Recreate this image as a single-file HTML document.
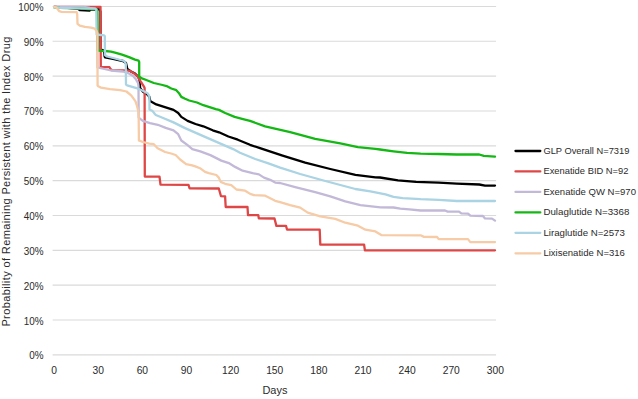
<!DOCTYPE html>
<html><head><meta charset="utf-8"><style>
html,body{margin:0;padding:0;background:#fff;width:638px;height:399px;overflow:hidden}
svg{display:block}
text{font-family:"Liberation Sans",sans-serif}
</style></head><body>
<svg width="638" height="399" viewBox="0 0 638 399">
<rect width="638" height="399" fill="#fff"/>

<line x1="52.6" y1="6.45" x2="496.1" y2="6.45" stroke="#dadada" stroke-width="1.15"/>
<line x1="52.6" y1="41.29" x2="496.1" y2="41.29" stroke="#dadada" stroke-width="1.15"/>
<line x1="52.6" y1="76.13" x2="496.1" y2="76.13" stroke="#dadada" stroke-width="1.15"/>
<line x1="52.6" y1="110.97" x2="496.1" y2="110.97" stroke="#dadada" stroke-width="1.15"/>
<line x1="52.6" y1="145.81" x2="496.1" y2="145.81" stroke="#dadada" stroke-width="1.15"/>
<line x1="52.6" y1="180.65" x2="496.1" y2="180.65" stroke="#dadada" stroke-width="1.15"/>
<line x1="52.6" y1="215.49" x2="496.1" y2="215.49" stroke="#dadada" stroke-width="1.15"/>
<line x1="52.6" y1="250.33" x2="496.1" y2="250.33" stroke="#dadada" stroke-width="1.15"/>
<line x1="52.6" y1="285.17" x2="496.1" y2="285.17" stroke="#dadada" stroke-width="1.15"/>
<line x1="52.6" y1="320.01" x2="496.1" y2="320.01" stroke="#dadada" stroke-width="1.15"/>
<line x1="52.6" y1="354.85" x2="496.1" y2="354.85" stroke="#dadada" stroke-width="1.15"/>
<text x="18.19" y="10.95" font-size="10.7" fill="#2b2b2b" textLength="25.31" lengthAdjust="spacingAndGlyphs">100%</text>
<text x="23.69" y="45.79" font-size="10.7" fill="#2b2b2b" textLength="19.81" lengthAdjust="spacingAndGlyphs">90%</text>
<text x="23.69" y="80.63" font-size="10.7" fill="#2b2b2b" textLength="19.81" lengthAdjust="spacingAndGlyphs">80%</text>
<text x="23.69" y="115.47" font-size="10.7" fill="#2b2b2b" textLength="19.81" lengthAdjust="spacingAndGlyphs">70%</text>
<text x="23.69" y="150.31" font-size="10.7" fill="#2b2b2b" textLength="19.81" lengthAdjust="spacingAndGlyphs">60%</text>
<text x="23.69" y="185.15" font-size="10.7" fill="#2b2b2b" textLength="19.81" lengthAdjust="spacingAndGlyphs">50%</text>
<text x="23.69" y="219.99" font-size="10.7" fill="#2b2b2b" textLength="19.81" lengthAdjust="spacingAndGlyphs">40%</text>
<text x="23.69" y="254.83" font-size="10.7" fill="#2b2b2b" textLength="19.81" lengthAdjust="spacingAndGlyphs">30%</text>
<text x="23.69" y="289.67" font-size="10.7" fill="#2b2b2b" textLength="19.81" lengthAdjust="spacingAndGlyphs">20%</text>
<text x="23.69" y="324.51" font-size="10.7" fill="#2b2b2b" textLength="19.81" lengthAdjust="spacingAndGlyphs">10%</text>
<text x="29.20" y="359.35" font-size="10.7" fill="#2b2b2b" textLength="14.30" lengthAdjust="spacingAndGlyphs">0%</text>
<text x="51.24" y="373.9" font-size="10.6" fill="#2b2b2b" textLength="5.72" lengthAdjust="spacingAndGlyphs">0</text>
<text x="92.51" y="373.9" font-size="10.6" fill="#2b2b2b" textLength="11.44" lengthAdjust="spacingAndGlyphs">30</text>
<text x="136.64" y="373.9" font-size="10.6" fill="#2b2b2b" textLength="11.44" lengthAdjust="spacingAndGlyphs">60</text>
<text x="180.77" y="373.9" font-size="10.6" fill="#2b2b2b" textLength="11.44" lengthAdjust="spacingAndGlyphs">90</text>
<text x="222.04" y="373.9" font-size="10.6" fill="#2b2b2b" textLength="17.16" lengthAdjust="spacingAndGlyphs">120</text>
<text x="266.17" y="373.9" font-size="10.6" fill="#2b2b2b" textLength="17.16" lengthAdjust="spacingAndGlyphs">150</text>
<text x="310.30" y="373.9" font-size="10.6" fill="#2b2b2b" textLength="17.16" lengthAdjust="spacingAndGlyphs">180</text>
<text x="354.43" y="373.9" font-size="10.6" fill="#2b2b2b" textLength="17.16" lengthAdjust="spacingAndGlyphs">210</text>
<text x="398.56" y="373.9" font-size="10.6" fill="#2b2b2b" textLength="17.16" lengthAdjust="spacingAndGlyphs">240</text>
<text x="442.69" y="373.9" font-size="10.6" fill="#2b2b2b" textLength="17.16" lengthAdjust="spacingAndGlyphs">270</text>
<text x="486.82" y="373.9" font-size="10.6" fill="#2b2b2b" textLength="17.16" lengthAdjust="spacingAndGlyphs">300</text>
<text x="262.45" y="393.9" font-size="11.6" fill="#2b2b2b" textLength="25.0" lengthAdjust="spacingAndGlyphs">Days</text>
<text transform="translate(10.3,326.6) rotate(-90)" x="0" y="0" font-size="11" fill="#2b2b2b" textLength="290" lengthAdjust="spacing">Probability of Remaining Persistent with the Index Drug</text>
<polyline points="54.2,6.9 65.0,7.6 78.0,8.8 80.0,10.2 89.5,10.7 91.0,9.5 99.5,9.5 100.4,11.5 100.6,49.5 104.0,50.3 104.6,56.5 105.0,57.3 113.0,59.0 123.0,61.0 126.0,63.0 127.3,69.0 131.0,71.5 135.0,73.6 138.0,76.6 139.4,79.0 140.2,88.3 142.8,91.5 147.7,94.8 149.5,97.0 150.1,100.5 150.5,101.3 156.3,104.4 164.1,106.8 173.5,109.9 178.2,113.0 181.3,116.9 187.6,120.9 195.5,124.0 203.3,126.3 212.7,130.3 219.0,132.3 228.4,136.5 237.8,139.7 250.0,144.8 260.0,148.2 282.6,155.7 305.2,162.7 330.3,169.0 355.4,174.8 375.4,177.3 380.0,177.5 398.0,180.4 416.1,181.8 438.7,182.7 456.7,183.6 479.3,184.5 485.0,185.6 495.0,185.6" fill="none" stroke="#000000" stroke-width="2.3" stroke-linejoin="round" stroke-linecap="round"/>
<polyline points="54.2,6.9 100.5,6.9 100.8,67.0 109.5,67.2 110.5,69.0 112.0,70.2 127.0,70.3 130.0,70.9 133.8,73.2 137.5,76.3 141.3,82.5 143.8,86.3 144.6,88.0 144.8,176.5 159.5,176.7 160.5,184.7 188.5,184.8 189.5,188.3 218.8,188.5 221.0,196.2 225.1,196.4 225.7,207.0 247.5,207.0 248.0,215.1 258.3,215.1 258.8,218.4 274.5,218.5 276.4,225.9 286.0,225.9 287.1,229.7 319.7,229.7 320.3,244.7 364.1,244.7 364.9,250.3 495.0,250.3" fill="none" stroke="#df4646" stroke-width="2.3" stroke-linejoin="round" stroke-linecap="round"/>
<polyline points="54.2,6.8 84.0,6.9 90.0,8.0 95.0,8.7 97.2,10.0 97.5,67.4 100.0,68.0 111.0,70.5 123.1,71.5 128.1,73.1 133.1,76.1 136.1,79.6 138.1,83.1 138.5,86.0 138.7,117.6 142.8,120.8 150.0,123.2 157.8,124.8 165.7,127.9 173.5,130.3 178.2,134.2 181.3,140.5 187.6,145.2 192.3,149.1 200.3,151.3 210.4,155.1 221.3,160.6 228.8,163.1 235.1,166.9 242.6,170.7 252.7,173.2 258.9,174.4 264.0,177.6 270.2,179.8 275.2,182.6 280.1,183.0 295.2,187.1 315.2,192.1 330.3,196.3 345.3,201.3 360.4,205.1 380.4,207.3 393.5,207.5 400.3,208.7 409.3,209.3 420.6,210.5 445.0,210.5 447.7,211.6 459.0,211.6 461.3,213.4 468.0,213.6 470.3,215.7 483.0,216.0 485.0,218.4 492.0,218.6 495.0,220.6" fill="none" stroke="#c2b9d8" stroke-width="2.3" stroke-linejoin="round" stroke-linecap="round"/>
<polyline points="54.2,7.3 60.0,7.9 80.0,8.4 88.0,9.1 96.5,9.4 97.4,11.0 97.8,50.6 105.0,51.0 111.0,51.6 115.0,52.6 122.0,54.6 129.0,57.1 135.0,59.6 138.6,60.6 139.2,62.0 139.2,76.3 141.3,78.2 146.3,80.0 153.8,83.0 162.5,85.0 167.5,86.4 171.3,88.5 176.3,90.2 179.0,93.2 181.3,96.9 185.1,98.8 189.2,100.5 197.0,102.5 203.3,105.2 215.8,109.1 219.0,109.9 225.2,113.0 234.6,116.9 244.0,119.3 250.0,120.9 265.1,126.4 290.2,132.1 315.2,138.9 340.3,143.4 357.9,147.2 375.4,148.9 380.0,149.5 393.5,151.3 407.1,152.9 420.6,153.6 438.7,154.0 456.7,154.5 479.3,154.5 483.8,155.8 495.0,156.7" fill="none" stroke="#14b814" stroke-width="2.3" stroke-linejoin="round" stroke-linecap="round"/>
<polyline points="54.2,7.2 60.0,7.8 80.0,8.3 95.3,8.7 96.3,9.6 96.6,34.5 104.0,35.3 104.8,36.0 105.0,55.0 107.0,56.5 115.0,58.5 124.1,61.0 125.3,62.5 125.8,64.0 126.0,84.6 127.1,85.3 133.1,87.1 137.5,88.4 141.1,90.0 144.4,91.5 147.5,93.2 148.5,94.8 149.4,96.3 149.5,109.4 152.6,111.1 154.7,113.8 155.8,115.0 162.5,117.7 173.5,122.4 184.5,127.9 197.0,133.4 209.6,138.9 220.5,143.6 233.1,149.1 240.0,152.7 255.2,159.0 267.7,163.1 280.1,167.7 300.2,174.0 325.3,181.0 355.4,189.0 370.4,191.3 385.5,194.3 393.5,196.9 402.6,198.1 420.6,199.2 438.7,199.9 456.7,201.0 495.0,201.0" fill="none" stroke="#aad3e3" stroke-width="2.3" stroke-linejoin="round" stroke-linecap="round"/>
<polyline points="54.2,6.9 56.5,7.6 59.3,11.2 61.5,11.8 76.6,12.2 77.2,14.0 77.5,23.8 79.8,25.7 85.0,26.8 91.0,27.6 94.8,28.7 96.3,30.6 97.4,33.0 97.6,85.5 98.2,86.3 101.0,87.6 110.0,89.1 120.1,90.1 126.5,91.5 131.4,95.6 135.5,101.3 137.1,106.2 138.5,112.0 138.7,117.6 138.9,140.4 142.8,142.0 149.3,143.6 153.8,144.2 157.6,148.3 165.1,152.0 171.1,153.5 175.6,155.0 180.1,159.5 186.1,164.1 192.1,165.3 195.3,166.4 200.0,168.2 205.0,171.9 208.8,173.2 216.3,175.0 218.8,177.6 220.7,181.9 225.1,183.8 231.3,185.1 236.4,189.5 245.1,190.7 250.2,193.9 253.9,195.1 265.2,195.7 270.2,198.2 275.2,200.8 280.1,202.1 290.2,205.1 300.2,207.6 307.7,212.6 320.3,216.4 335.3,218.9 345.3,222.7 357.9,225.7 365.4,229.7 375.4,231.4 381.7,235.2 420.6,235.3 424.0,236.9 437.0,237.0 438.7,239.1 468.0,239.1 470.3,242.1 495.0,242.1" fill="none" stroke="#f6cba6" stroke-width="2.3" stroke-linejoin="round" stroke-linecap="round"/>
<line x1="515.5" y1="151.00" x2="540.3" y2="151.00" stroke="#000000" stroke-width="2.3" stroke-linecap="round"/>
<text x="543.4" y="153.95" font-size="9.6" fill="#2b2b2b" textLength="86.00" lengthAdjust="spacingAndGlyphs">GLP Overall N=7319</text>
<line x1="515.5" y1="171.46" x2="540.3" y2="171.46" stroke="#df4646" stroke-width="2.3" stroke-linecap="round"/>
<text x="543.4" y="174.41" font-size="9.6" fill="#2b2b2b" textLength="85.10" lengthAdjust="spacingAndGlyphs">Exenatide BID N=92</text>
<line x1="515.5" y1="191.92" x2="540.3" y2="191.92" stroke="#c2b9d8" stroke-width="2.3" stroke-linecap="round"/>
<text x="543.4" y="194.87" font-size="9.6" fill="#2b2b2b" textLength="92.60" lengthAdjust="spacingAndGlyphs">Exenatide QW N=970</text>
<line x1="515.5" y1="212.38" x2="540.3" y2="212.38" stroke="#14b814" stroke-width="2.3" stroke-linecap="round"/>
<text x="543.4" y="215.33" font-size="9.6" fill="#2b2b2b" textLength="86.00" lengthAdjust="spacingAndGlyphs">Dulaglutide N=3368</text>
<line x1="515.5" y1="232.84" x2="540.3" y2="232.84" stroke="#aad3e3" stroke-width="2.3" stroke-linecap="round"/>
<text x="543.4" y="235.79" font-size="9.6" fill="#2b2b2b" textLength="81.50" lengthAdjust="spacingAndGlyphs">Liraglutide N=2573</text>
<line x1="515.5" y1="253.30" x2="540.3" y2="253.30" stroke="#f6cba6" stroke-width="2.3" stroke-linecap="round"/>
<text x="543.4" y="256.25" font-size="9.6" fill="#2b2b2b" textLength="81.50" lengthAdjust="spacingAndGlyphs">Lixisenatide N=316</text>
</svg></body></html>
